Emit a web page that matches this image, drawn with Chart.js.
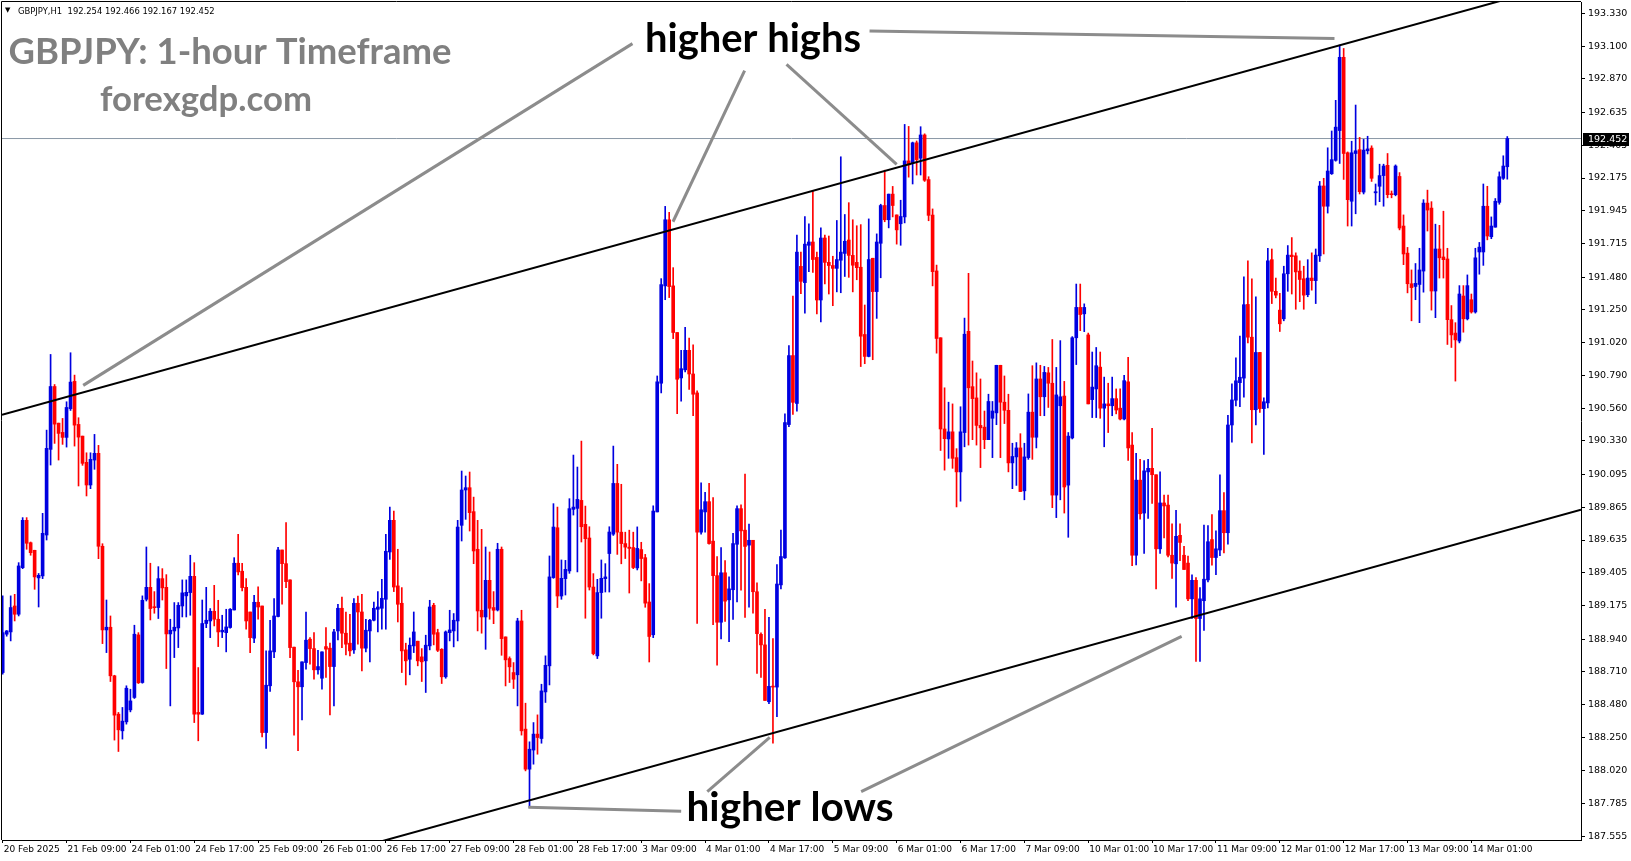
<!DOCTYPE html>
<html><head><meta charset="utf-8">
<script src="https://cdn.jsdelivr.net/npm/chart.js@4.4.1/dist/chart.umd.min.js"></script>
<style>html,body{margin:0;padding:0;background:#fff;overflow:hidden}canvas{display:block}</style>
</head><body>
<canvas id="c" width="1631" height="861"></canvas>
<script>
// GBPJPY H1 candles (bar index 0 = 20 Feb 2025 17:00)
const opens = [188.705,188.974,188.990,189.172,189.114,189.441,189.773,189.616,189.563,189.369,
189.383,189.670,190.271,190.712,190.455,190.390,190.355,190.556,190.748,190.446,
190.364,190.180,190.021,190.196,190.243,189.591,189.004,189.023,188.682,188.413,
188.296,188.359,188.443,188.530,188.969,188.635,189.219,189.303,189.165,189.161,
189.364,189.303,188.976,188.997,189.018,189.172,189.243,189.266,189.380,188.425,
188.413,189.049,189.067,189.135,189.079,188.990,188.985,189.021,189.144,189.472,
189.416,189.303,189.130,188.946,189.198,189.172,188.284,188.612,188.850,189.098,
189.565,189.469,189.355,188.883,188.640,188.605,188.775,188.939,188.873,188.724,
188.665,188.887,188.876,188.747,188.997,189.156,188.981,188.911,188.864,189.191,
189.130,188.876,188.997,189.072,189.149,189.156,189.219,189.551,189.773,189.313,
189.191,188.864,188.798,188.892,188.925,188.815,188.787,188.892,189.177,188.985,
188.868,188.675,188.985,188.997,189.067,189.738,189.986,190.002,189.834,189.570,
189.142,189.095,189.352,189.161,189.144,189.570,188.955,188.803,188.705,188.689,
189.067,188.308,188.027,188.161,188.273,188.242,188.569,188.752,189.371,189.721,
189.242,189.364,189.418,189.850,189.857,189.913,189.745,189.649,189.305,188.822,
189.266,189.364,189.540,189.676,190.032,189.690,189.610,189.585,189.582,189.439,
189.568,189.511,189.200,188.970,189.832,190.735,191.418,191.882,191.418,191.091,
190.772,190.829,190.966,190.800,190.667,189.690,189.832,189.904,189.627,189.385,
189.058,189.405,189.215,189.286,189.605,189.855,189.704,189.599,189.633,189.272,
188.973,188.899,188.500,188.608,188.603,189.320,189.510,190.445,190.929,190.593,
191.555,191.441,191.703,191.726,191.618,191.319,191.754,191.583,191.561,191.541,
191.598,191.646,191.740,191.632,191.583,191.549,191.077,190.923,191.612,191.378,
191.717,191.982,191.882,192.062,191.916,191.854,191.902,192.295,192.279,192.422,
192.314,192.477,192.164,191.915,191.523,191.054,190.414,190.344,190.394,190.213,
190.113,190.389,191.099,190.711,190.632,190.439,190.427,190.339,190.489,190.527,
190.861,190.602,190.545,190.176,190.218,190.281,189.980,190.213,190.532,190.356,
190.765,190.640,190.808,190.735,189.950,190.577,190.645,190.020,190.351,191.054,
191.267,191.222,191.074,190.620,190.695,190.848,190.560,190.590,190.577,190.627,
190.560,190.484,190.745,190.301,189.528,190.055,189.824,190.113,190.138,190.093,
189.573,189.895,189.880,189.528,189.468,189.668,189.528,189.473,189.222,189.352,
189.084,189.209,189.355,189.638,189.512,189.565,189.841,189.686,190.442,190.616,
190.739,190.771,191.288,191.058,190.549,190.951,190.557,190.597,191.602,191.380,
191.248,191.187,191.503,191.634,191.629,191.522,191.468,191.356,191.473,191.455,
191.629,192.119,191.977,192.205,192.299,192.508,193.022,192.352,192.012,192.347,
192.374,192.076,192.366,192.385,192.071,192.117,192.192,192.264,192.063,192.058,
192.186,191.838,191.648,191.433,191.414,191.428,191.522,191.999,191.964,191.382,
191.677,191.621,191.607,191.181,191.087,191.031,191.347,191.187,191.321,191.235,
191.656,191.656,191.977,191.763,191.830,192.004,192.173,192.254];
const highs = [189.243,189.000,189.243,189.254,189.476,189.792,189.792,189.621,189.563,189.400,
189.822,190.406,190.937,190.726,190.455,190.488,190.605,190.949,190.792,190.493,
190.364,190.247,190.247,190.376,190.299,189.609,189.214,189.102,188.686,188.425,
188.460,188.612,188.588,189.037,188.985,189.243,189.586,189.472,189.273,189.448,
189.434,189.392,189.079,189.196,189.196,189.355,189.355,189.528,189.476,188.740,
189.214,189.303,189.154,189.317,189.212,189.107,189.149,189.154,189.511,189.675,
189.472,189.364,189.130,189.247,189.306,189.172,188.857,189.072,189.224,189.584,
189.565,189.757,189.355,188.883,188.721,188.780,189.130,188.950,188.985,188.861,
188.850,189.020,188.911,189.009,189.184,189.235,189.130,189.114,189.224,189.242,
189.254,189.079,189.079,189.200,189.273,189.359,189.675,189.866,189.838,189.570,
189.301,188.911,188.948,189.130,188.925,188.873,188.967,189.212,189.191,189.009,
188.873,188.997,189.142,189.119,189.773,190.119,190.084,190.112,189.936,189.773,
189.710,189.586,189.551,189.273,189.612,189.586,188.955,188.815,188.775,189.086,
189.142,188.490,188.219,188.354,188.408,188.623,188.822,189.523,189.890,189.866,
189.495,189.492,189.925,190.231,190.147,190.329,189.873,189.728,189.399,189.359,
189.495,189.469,189.728,190.294,190.166,190.026,189.690,189.704,189.690,189.727,
189.619,189.534,189.329,189.875,190.786,191.469,191.976,191.934,191.546,191.091,
190.966,191.128,191.051,191.005,190.681,190.037,189.969,190.032,189.932,189.519,
189.582,189.491,189.377,189.682,189.875,189.881,190.097,189.747,189.633,189.334,
188.984,189.149,189.092,188.944,189.462,189.704,190.521,191.000,191.347,191.774,
191.655,191.905,191.854,192.087,191.655,191.825,191.774,191.768,191.626,191.877,
192.324,191.919,192.002,191.882,191.840,191.848,191.284,191.888,191.612,191.783,
191.991,192.230,192.062,192.116,191.916,192.019,192.551,192.537,192.427,192.435,
192.535,192.485,192.184,191.958,191.564,191.054,190.703,190.602,190.590,190.276,
190.570,191.192,191.506,190.891,190.808,190.765,190.540,190.658,190.607,190.861,
190.861,190.786,190.658,190.314,190.319,190.381,190.314,190.660,190.858,190.878,
190.861,190.853,190.846,191.042,190.846,191.034,190.748,190.389,191.062,191.431,
191.431,191.292,191.087,190.954,190.986,190.954,190.778,190.735,190.778,190.695,
190.695,190.791,190.916,190.389,190.243,190.201,190.193,190.201,190.419,190.093,
190.113,189.950,189.950,189.749,189.844,189.749,189.591,189.523,189.390,189.372,
189.302,189.740,189.736,189.814,189.699,190.093,189.967,190.509,190.731,190.913,
191.066,191.481,191.594,191.468,191.342,190.951,190.632,191.682,191.677,191.473,
191.366,191.556,191.701,191.757,191.650,191.594,191.556,191.602,191.650,191.677,
192.151,192.173,192.387,192.505,192.720,193.108,193.084,192.358,192.433,192.687,
192.460,192.446,192.468,192.401,192.133,192.272,192.272,192.347,192.084,192.267,
192.213,191.916,191.688,191.530,191.575,191.682,192.023,192.090,192.009,191.851,
191.843,191.942,191.682,191.280,191.160,191.420,191.420,191.495,191.361,191.682,
191.723,192.133,192.117,191.902,192.031,192.218,192.331,192.466];
const lows = [188.693,188.960,188.927,189.067,189.102,189.434,189.570,189.528,189.289,189.165,
189.364,189.635,190.161,190.313,190.196,190.306,190.287,190.544,190.294,190.014,
190.159,189.944,189.995,190.131,189.504,188.908,188.845,188.642,188.231,188.151,
188.238,188.343,188.429,188.523,188.628,188.630,189.207,189.074,189.121,189.084,
189.214,188.733,188.471,188.810,188.880,189.095,189.095,189.107,188.354,188.226,
188.411,189.020,188.950,189.032,188.887,188.950,188.850,189.016,189.144,189.390,
189.278,189.009,188.845,188.915,189.079,188.254,188.172,188.572,188.810,189.095,
189.184,189.301,188.810,188.266,188.156,188.373,188.728,188.763,188.658,188.693,
188.588,188.670,188.408,188.471,188.934,188.880,188.829,188.822,188.840,188.904,
188.717,188.850,188.780,189.067,188.990,189.009,189.009,189.499,189.273,189.060,
188.705,188.618,188.689,188.845,188.752,188.642,188.565,188.864,188.899,188.852,
188.628,188.665,188.927,188.885,188.927,189.628,189.780,189.698,189.469,188.997,
188.981,188.868,189.079,189.048,189.137,188.826,188.611,188.635,188.593,188.471,
188.266,188.015,187.758,188.062,188.132,188.209,188.495,188.618,189.366,189.161,
189.219,189.249,189.401,189.810,189.411,189.621,189.086,189.284,188.829,188.803,
189.086,189.270,189.270,189.667,189.534,189.468,189.505,189.263,189.434,189.425,
189.348,189.163,188.779,188.950,189.832,190.667,191.321,191.336,191.048,190.521,
190.610,190.815,190.692,190.507,189.050,189.676,189.690,189.605,189.041,188.756,
188.941,189.064,188.921,189.078,189.200,189.283,189.092,189.163,189.121,188.699,
188.671,188.509,188.486,188.210,188.395,189.292,189.505,190.430,190.516,190.539,
191.364,191.227,191.518,191.512,191.222,191.165,191.432,191.361,191.279,191.376,
191.370,191.484,191.478,191.376,191.461,190.852,190.872,190.920,190.900,191.190,
191.475,191.868,191.825,191.902,191.711,191.703,191.860,192.181,192.133,192.196,
192.196,192.151,191.875,191.418,190.946,190.263,190.125,190.208,190.138,189.867,
189.907,190.289,190.301,190.339,190.301,190.143,190.276,190.339,190.213,190.444,
190.213,190.452,190.113,189.995,190.018,189.975,189.917,190.201,190.201,190.281,
190.507,190.507,190.565,189.862,189.792,189.917,189.824,189.654,190.344,190.866,
191.104,191.097,190.590,190.494,190.494,190.489,190.289,190.389,190.507,190.520,
190.477,190.477,190.193,189.455,189.460,189.782,189.541,189.787,189.892,189.292,
189.541,189.649,189.516,189.365,189.164,189.490,189.428,189.209,189.084,188.783,
188.783,189.000,189.340,189.458,189.391,189.525,189.544,189.605,190.321,190.576,
190.570,190.637,191.018,190.316,190.442,190.530,190.235,190.562,191.294,191.334,
191.098,191.173,191.380,191.361,191.254,191.307,191.254,191.342,191.388,191.294,
191.589,191.642,191.929,192.200,192.293,192.277,192.165,191.838,191.838,191.924,
192.063,192.063,192.344,192.151,191.985,192.009,191.977,192.036,192.036,192.050,
191.811,191.567,191.369,191.173,191.321,191.160,191.374,191.803,191.248,191.195,
191.473,191.473,191.007,190.986,190.750,191.018,191.093,191.179,191.227,191.227,
191.500,191.562,191.741,191.749,191.830,191.991,192.165,192.167];
const closes = [188.985,188.997,189.161,189.114,189.453,189.773,189.612,189.546,189.376,189.387,
189.682,190.278,190.712,190.448,190.383,190.355,190.565,190.743,190.441,190.357,
190.173,190.021,190.201,190.243,189.591,189.004,189.023,188.682,188.406,188.303,
188.364,188.595,188.506,188.974,188.633,189.212,189.303,189.154,189.160,189.364,
189.299,188.976,189.002,189.023,189.177,189.264,189.268,189.380,188.413,188.413,
189.049,189.072,189.135,189.079,188.990,189.002,189.025,189.149,189.472,189.411,
189.301,189.067,188.950,189.198,189.165,188.284,188.616,188.857,189.102,189.565,
189.469,189.343,188.880,188.640,188.605,188.780,188.932,188.873,188.724,188.747,
188.850,188.869,188.747,188.990,189.156,188.981,188.904,188.857,189.191,189.130,
188.876,189.002,189.072,189.156,189.165,189.226,189.556,189.773,189.305,189.184,
188.857,188.787,188.897,188.990,188.787,188.780,188.897,189.165,188.974,188.861,
188.675,188.990,189.004,189.072,189.726,189.986,190.002,189.827,189.558,189.137,
189.095,189.352,189.156,189.142,189.570,188.943,188.794,188.745,188.658,189.067,
188.296,188.027,188.167,188.273,188.249,188.576,188.756,189.376,189.726,189.242,
189.366,189.429,189.855,189.866,189.920,189.728,189.644,189.305,188.838,189.266,
189.366,189.376,189.691,190.032,189.690,189.610,189.585,189.576,189.442,189.576,
189.505,189.192,188.958,189.838,190.744,191.427,191.882,191.413,191.091,190.763,
190.837,190.966,190.800,190.658,189.690,189.847,189.904,189.610,189.385,189.058,
189.405,189.206,189.292,189.610,189.855,189.699,189.590,189.633,189.272,188.978,
188.899,188.509,188.608,188.603,189.326,189.519,190.459,190.929,190.601,191.655,
191.450,191.711,191.726,191.603,191.319,191.754,191.583,191.561,191.541,191.603,
191.655,191.731,191.632,191.563,191.546,191.065,190.923,191.603,191.378,191.726,
191.982,191.882,192.062,191.982,191.811,191.905,192.295,192.267,192.422,192.304,
192.477,192.159,191.913,191.518,191.049,190.414,190.346,190.394,190.208,190.113,
190.394,191.079,190.703,190.627,190.439,190.422,190.339,190.607,190.540,190.861,
190.602,190.545,190.176,190.221,190.281,189.975,190.218,190.532,190.356,190.765,
190.640,190.811,190.735,189.950,190.653,190.640,190.007,190.364,191.054,191.267,
191.217,191.267,190.590,190.708,190.858,190.560,190.590,190.577,190.627,190.547,
190.484,190.753,190.281,189.528,190.055,189.819,190.120,190.138,190.093,189.573,
189.895,189.874,189.528,189.473,189.661,189.618,189.428,189.222,189.352,189.084,
189.222,189.360,189.623,189.512,189.573,189.841,189.686,190.442,190.618,190.752,
190.777,191.286,191.058,190.549,190.951,190.557,190.605,191.594,191.380,191.353,
191.152,191.503,191.634,191.623,191.516,191.463,191.353,191.473,191.455,191.634,
192.119,191.977,192.224,192.304,192.532,193.022,192.347,192.023,192.352,192.366,
192.079,192.371,192.379,192.173,192.079,192.192,192.259,192.058,192.058,192.259,
191.824,191.642,191.433,191.406,191.436,191.530,191.999,191.950,191.382,191.677,
191.615,191.602,191.181,191.074,191.039,191.361,191.187,191.420,191.235,191.615,
191.690,191.977,191.768,191.838,192.012,192.184,192.259,192.452];

// time axis labels, one every 16 bars
const xTickLabels = ['20 Feb 2025','21 Feb 09:00','24 Feb 01:00','24 Feb 17:00','25 Feb 09:00','26 Feb 01:00',
'26 Feb 17:00','27 Feb 09:00','28 Feb 01:00','28 Feb 17:00','3 Mar 09:00','4 Mar 01:00','4 Mar 17:00',
'5 Mar 09:00','6 Mar 01:00','6 Mar 17:00','7 Mar 09:00','10 Mar 01:00','10 Mar 17:00','11 Mar 09:00',
'12 Mar 01:00','12 Mar 17:00','13 Mar 09:00','14 Mar 01:00'];
const xTickStep = 16;
const yTickLabels = ['187.555','187.785','188.020','188.250','188.480','188.710','188.940','189.175','189.405',
'189.635','189.865','190.095','190.330','190.560','190.790','191.020','191.250','191.480','191.715','191.945',
'192.175','192.405','192.635','192.870','193.100','193.330'];
const lastPrice = 192.452;
const headerText = 'GBPJPY,H1  192.254 192.466 192.167 192.452';

// trend channel (bar index, price)
const upperChannel = [[-0.175, 190.513], [395.47, 193.574]];
const lowerChannel = [[90, 187.483], [395.47, 189.847]];
// pointer lines from labels to swing points (bar index, price)
const pointerLines = [
  [[157.8, 193.118], [20.17, 190.720]],
  [[185.9, 192.928], [167.95, 191.868]],
  [[196.4, 192.972], [224.0, 192.270]],
  [[217.2, 193.206], [333.7, 193.154]],
  [[192.2, 188.250], [176.55, 187.869]],
  [[131.7, 187.760], [170.0, 187.731]],
  [[215.1, 187.869], [295.4, 188.959]]
];

const X_MIN = -0.175, X_MAX = 395.47, Y_MIN = 187.53, Y_MAX = 193.41;
const BULL = '#0000e0', BEAR = '#ff0000';

const wickData = [], bodyData = [], candleColors = [];
for (let i = 0; i < closes.length; i++) {
  wickData.push({x: i, y: [lows[i], highs[i]]});
  bodyData.push({x: i, y: [opens[i], closes[i]]});
  candleColors.push(closes[i] >= opens[i] ? BULL : BEAR);
}
const toXY = pts => pts.map(p => ({x: p[0], y: p[1]}));

const datasets = [
  {type: 'line', data: [{x: X_MIN, y: lastPrice}, {x: X_MAX, y: lastPrice}], borderColor: '#8a97a6', borderWidth: 1, pointRadius: 0, order: 10},
  {type: 'bar', data: wickData, backgroundColor: candleColors, barThickness: 1, grouped: false, order: 9},
  {type: 'bar', data: bodyData, backgroundColor: candleColors, barThickness: 3, grouped: false, minBarLength: 1, order: 8},
  {type: 'line', data: toXY(upperChannel), borderColor: '#000', borderWidth: 2, pointRadius: 0, order: 3},
  {type: 'line', data: toXY(lowerChannel), borderColor: '#000', borderWidth: 2, pointRadius: 0, order: 3}
];
pointerLines.forEach(l => datasets.push({type: 'line', data: toXY(l), borderColor: '#8c8c8c', borderWidth: 3, pointRadius: 0, order: 2}));

function fitText(ctx, text, x, baseline, width, weight, family, color) {
  ctx.font = weight + ' 100px "' + family + '"';
  const w = ctx.measureText(text).width;
  const size = 100 * width / w;
  ctx.font = weight + ' ' + size.toFixed(2) + 'px "' + family + '"';
  ctx.fillStyle = color;
  ctx.textAlign = 'left';
  ctx.textBaseline = 'alphabetic';
  ctx.fillText(text, x, baseline);
}

const decor = {
  id: 'decor',
  afterDraw(chart) {
    const ctx = chart.ctx, a = chart.chartArea, ys = chart.scales.y;
    ctx.save();
    // frame (top, left)
    ctx.strokeStyle = '#000'; ctx.lineWidth = 1;
    ctx.beginPath();
    ctx.moveTo(a.left - 0.5, a.bottom); ctx.lineTo(a.left - 0.5, a.top - 0.5); ctx.lineTo(a.right, a.top - 0.5);
    ctx.stroke();
    // header
    ctx.fillStyle = '#000';
    ctx.font = '7px "DejaVu Sans"'; ctx.textBaseline = 'middle'; ctx.textAlign = 'left';
    ctx.fillText('\u25BC', 5, 10);
    fitText(ctx, headerText, 18, 14, 197, 'normal', 'DejaVu Sans', '#000');
    // titles
    fitText(ctx, 'GBPJPY: 1-hour Timeframe', 8.5, 64, 443, 'bold', 'Lato', '#808080');
    fitText(ctx, 'forexgdp.com', 100, 110.5, 212, 'bold', 'Lato', '#808080');
    fitText(ctx, 'higher highs', 645, 52, 216, 'bold', 'Lato', '#000');
    fitText(ctx, 'higher lows', 686.5, 821, 207, 'bold', 'Lato', '#000');
    // current price tag on the axis
    const py = Math.round(ys.getPixelForValue(lastPrice));
    ctx.fillStyle = '#000';
    ctx.fillRect(a.right + 2, py - 6, 46, 13);
    ctx.fillStyle = '#fff';
    ctx.font = '9.5px "DejaVu Sans"'; ctx.textBaseline = 'middle'; ctx.textAlign = 'left';
    ctx.fillText(lastPrice.toFixed(3), a.right + 7, py + 0.5);
    ctx.restore();
  }
};

new Chart(document.getElementById('c').getContext('2d'), {
  type: 'bar',
  data: {datasets},
  options: {
    responsive: false, animation: false, devicePixelRatio: 1,
    layout: {padding: {left: 2, top: 2, right: 0, bottom: 0}},
    plugins: {legend: {display: false}, tooltip: {enabled: false}, title: {display: false}},
    scales: {
      x: {
        type: 'linear', position: 'bottom', min: X_MIN, max: X_MAX, offset: false, bounds: 'data',
        grid: {display: true, drawOnChartArea: false, drawTicks: true, tickLength: 3, color: '#000', offset: false},
        border: {display: true, color: '#000', width: 1},
        ticks: {autoSkip: false, maxRotation: 0, minRotation: 0, align: 'start', labelOffset: 1, padding: 1,
          color: '#000', font: {family: 'DejaVu Sans', size: 9}, callback: (v, i) => xTickLabels[i]},
        afterBuildTicks: s => { s.ticks = xTickLabels.map((_, k) => ({value: k * xTickStep})); },
        afterFit: s => { s.height = 21; s.paddingLeft = 0; s.paddingRight = 0; }
      },
      y: {
        type: 'linear', position: 'right', min: Y_MIN, max: Y_MAX, beginAtZero: false, bounds: 'data',
        grid: {display: true, drawOnChartArea: false, drawTicks: true, tickLength: 4, color: '#000'},
        border: {display: true, color: '#000', width: 1},
        ticks: {autoSkip: false, padding: 3, color: '#000', font: {family: 'DejaVu Sans', size: 9.5},
          callback: (v, i) => yTickLabels[i]},
        afterBuildTicks: s => { s.ticks = yTickLabels.map(t => ({value: parseFloat(t)})); },
        afterFit: s => { s.width = 50; s.paddingTop = 0; s.paddingBottom = 0; }
      }
    }
  },
  plugins: [decor]
});
</script>
</body></html>
